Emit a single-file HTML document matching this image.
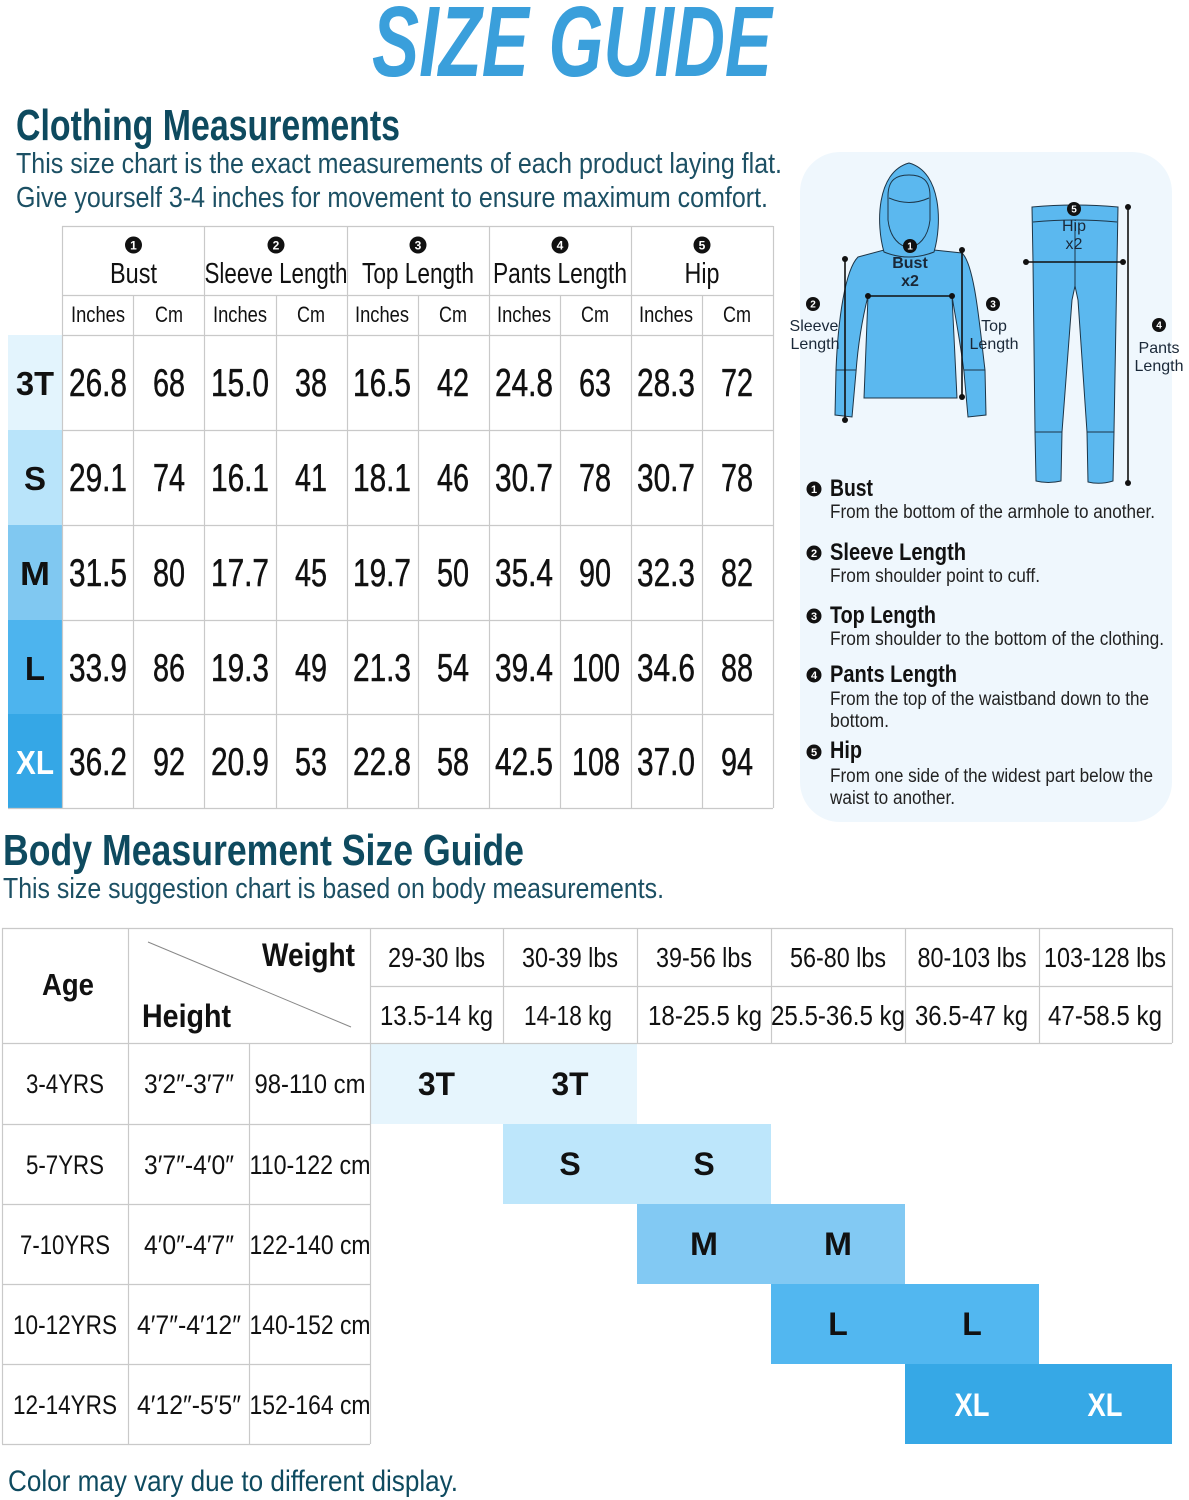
<!DOCTYPE html>
<html><head><meta charset="utf-8"><style>
html,body{margin:0;padding:0;background:#fff;}
svg{display:block;}
.n{font-family:"Liberation Sans Narrow","Liberation Sans",sans-serif;}
.w{font-family:"Liberation Sans",sans-serif;}
</style></head><body>
<svg width="1189" height="1500" viewBox="0 0 1189 1500" xmlns="http://www.w3.org/2000/svg">
<rect width="1189" height="1500" fill="#fff"/>
<!-- Title -->
<text class="n" x="372" y="76" font-size="100" font-weight="bold" font-style="italic" fill="#3a9fdb" textLength="400" lengthAdjust="spacingAndGlyphs">SIZE GUIDE</text>

<text class="n" x="16" y="140" font-size="44" font-weight="bold" fill="#0e4a5f" textLength="384" lengthAdjust="spacingAndGlyphs">Clothing Measurements</text>
<text class="n" x="16" y="173" font-size="29" fill="#1c5064" textLength="766" lengthAdjust="spacingAndGlyphs">This size chart is the exact measurements of each product laying flat.</text>
<text class="n" x="16" y="207" font-size="29" fill="#1c5064" textLength="752" lengthAdjust="spacingAndGlyphs">Give yourself 3-4 inches for movement to ensure maximum comfort.</text>

<!-- Top table size column -->
<rect x="8" y="335" width="54" height="95" fill="#e3f4fd"/>
<rect x="8" y="430" width="54" height="95" fill="#b9e4fa"/>
<rect x="8" y="525" width="54" height="95" fill="#80c8f1"/>
<rect x="8" y="620" width="54" height="94" fill="#4db4ee"/>
<rect x="8" y="714" width="54" height="94" fill="#35a7e6"/>

<g stroke="#c9c9c9" stroke-width="1.2">
<line x1="62" y1="226.5" x2="773" y2="226.5"/>
<line x1="62" y1="295.5" x2="773" y2="295.5"/>
<line x1="62" y1="335.5" x2="773" y2="335.5"/>
<line x1="62" y1="430.5" x2="773" y2="430.5"/>
<line x1="62" y1="525.5" x2="773" y2="525.5"/>
<line x1="62" y1="620.5" x2="773" y2="620.5"/>
<line x1="62" y1="714.5" x2="773" y2="714.5"/>
<line x1="8" y1="808.5" x2="773" y2="808.5"/>
<line x1="62.5" y1="226" x2="62.5" y2="808"/>
<line x1="204.5" y1="226" x2="204.5" y2="808"/>
<line x1="347.5" y1="226" x2="347.5" y2="808"/>
<line x1="489.5" y1="226" x2="489.5" y2="808"/>
<line x1="631.5" y1="226" x2="631.5" y2="808"/>
<line x1="773.5" y1="226" x2="773.5" y2="808"/>
<line x1="133.5" y1="295" x2="133.5" y2="808"/>
<line x1="276.5" y1="295" x2="276.5" y2="808"/>
<line x1="418.5" y1="295" x2="418.5" y2="808"/>
<line x1="560.5" y1="295" x2="560.5" y2="808"/>
<line x1="702.5" y1="295" x2="702.5" y2="808"/>
</g>

<!-- header number circles -->
<g fill="#111">
<circle cx="133.5" cy="245" r="8.5"/><circle cx="276" cy="245" r="8.5"/><circle cx="418" cy="245" r="8.5"/><circle cx="560" cy="245" r="8.5"/><circle cx="702" cy="245" r="8.5"/>
</g>
<g class="w" font-size="12" font-weight="bold" fill="#fff" text-anchor="middle">
<text x="133.5" y="249.5">1</text><text x="276" y="249.5">2</text><text x="418" y="249.5">3</text><text x="560" y="249.5">4</text><text x="702" y="249.5">5</text>
</g>
<g class="n" font-size="29" fill="#111" text-anchor="middle">
<text x="133.5" y="283" textLength="47" lengthAdjust="spacingAndGlyphs">Bust</text>
<text x="276" y="283" textLength="143" lengthAdjust="spacingAndGlyphs">Sleeve Length</text>
<text x="418" y="283" textLength="112" lengthAdjust="spacingAndGlyphs">Top Length</text>
<text x="560" y="283" textLength="134" lengthAdjust="spacingAndGlyphs">Pants Length</text>
<text x="702" y="283" textLength="35" lengthAdjust="spacingAndGlyphs">Hip</text>
</g>
<g class="n" font-size="22" fill="#111" text-anchor="middle">
<text x="98" y="322" textLength="54" lengthAdjust="spacingAndGlyphs">Inches</text><text x="169" y="322" textLength="28" lengthAdjust="spacingAndGlyphs">Cm</text>
<text x="240" y="322" textLength="54" lengthAdjust="spacingAndGlyphs">Inches</text><text x="311" y="322" textLength="28" lengthAdjust="spacingAndGlyphs">Cm</text>
<text x="382" y="322" textLength="54" lengthAdjust="spacingAndGlyphs">Inches</text><text x="453" y="322" textLength="28" lengthAdjust="spacingAndGlyphs">Cm</text>
<text x="524" y="322" textLength="54" lengthAdjust="spacingAndGlyphs">Inches</text><text x="595" y="322" textLength="28" lengthAdjust="spacingAndGlyphs">Cm</text>
<text x="666" y="322" textLength="54" lengthAdjust="spacingAndGlyphs">Inches</text><text x="737" y="322" textLength="28" lengthAdjust="spacingAndGlyphs">Cm</text>
</g>

<!-- size labels -->
<g class="w" font-size="33" font-weight="bold" fill="#111" text-anchor="middle">
<text x="35" y="395" textLength="38" lengthAdjust="spacingAndGlyphs">3T</text>
<text x="35" y="490">S</text>
<text x="35" y="585" textLength="30" lengthAdjust="spacingAndGlyphs">M</text>
<text x="35" y="680">L</text>
<text x="35" y="774" fill="#fff" textLength="38" lengthAdjust="spacingAndGlyphs">XL</text>
</g>

<!-- values -->
<g class="n" font-size="39" fill="#111" stroke="#111" stroke-width="0.5" text-anchor="middle">
<text x="98" y="396" textLength="58" lengthAdjust="spacingAndGlyphs">26.8</text><text x="169" y="396" textLength="32" lengthAdjust="spacingAndGlyphs">68</text><text x="240" y="396" textLength="58" lengthAdjust="spacingAndGlyphs">15.0</text><text x="311" y="396" textLength="32" lengthAdjust="spacingAndGlyphs">38</text><text x="382" y="396" textLength="58" lengthAdjust="spacingAndGlyphs">16.5</text><text x="453" y="396" textLength="32" lengthAdjust="spacingAndGlyphs">42</text><text x="524" y="396" textLength="58" lengthAdjust="spacingAndGlyphs">24.8</text><text x="595" y="396" textLength="32" lengthAdjust="spacingAndGlyphs">63</text><text x="666" y="396" textLength="58" lengthAdjust="spacingAndGlyphs">28.3</text><text x="737" y="396" textLength="32" lengthAdjust="spacingAndGlyphs">72</text>
<text x="98" y="491" textLength="58" lengthAdjust="spacingAndGlyphs">29.1</text><text x="169" y="491" textLength="32" lengthAdjust="spacingAndGlyphs">74</text><text x="240" y="491" textLength="58" lengthAdjust="spacingAndGlyphs">16.1</text><text x="311" y="491" textLength="32" lengthAdjust="spacingAndGlyphs">41</text><text x="382" y="491" textLength="58" lengthAdjust="spacingAndGlyphs">18.1</text><text x="453" y="491" textLength="32" lengthAdjust="spacingAndGlyphs">46</text><text x="524" y="491" textLength="58" lengthAdjust="spacingAndGlyphs">30.7</text><text x="595" y="491" textLength="32" lengthAdjust="spacingAndGlyphs">78</text><text x="666" y="491" textLength="58" lengthAdjust="spacingAndGlyphs">30.7</text><text x="737" y="491" textLength="32" lengthAdjust="spacingAndGlyphs">78</text>
<text x="98" y="586" textLength="58" lengthAdjust="spacingAndGlyphs">31.5</text><text x="169" y="586" textLength="32" lengthAdjust="spacingAndGlyphs">80</text><text x="240" y="586" textLength="58" lengthAdjust="spacingAndGlyphs">17.7</text><text x="311" y="586" textLength="32" lengthAdjust="spacingAndGlyphs">45</text><text x="382" y="586" textLength="58" lengthAdjust="spacingAndGlyphs">19.7</text><text x="453" y="586" textLength="32" lengthAdjust="spacingAndGlyphs">50</text><text x="524" y="586" textLength="58" lengthAdjust="spacingAndGlyphs">35.4</text><text x="595" y="586" textLength="32" lengthAdjust="spacingAndGlyphs">90</text><text x="666" y="586" textLength="58" lengthAdjust="spacingAndGlyphs">32.3</text><text x="737" y="586" textLength="32" lengthAdjust="spacingAndGlyphs">82</text>
<text x="98" y="681" textLength="58" lengthAdjust="spacingAndGlyphs">33.9</text><text x="169" y="681" textLength="32" lengthAdjust="spacingAndGlyphs">86</text><text x="240" y="681" textLength="58" lengthAdjust="spacingAndGlyphs">19.3</text><text x="311" y="681" textLength="32" lengthAdjust="spacingAndGlyphs">49</text><text x="382" y="681" textLength="58" lengthAdjust="spacingAndGlyphs">21.3</text><text x="453" y="681" textLength="32" lengthAdjust="spacingAndGlyphs">54</text><text x="524" y="681" textLength="58" lengthAdjust="spacingAndGlyphs">39.4</text><text x="596" y="681" textLength="48" lengthAdjust="spacingAndGlyphs">100</text><text x="666" y="681" textLength="58" lengthAdjust="spacingAndGlyphs">34.6</text><text x="737" y="681" textLength="32" lengthAdjust="spacingAndGlyphs">88</text>
<text x="98" y="775" textLength="58" lengthAdjust="spacingAndGlyphs">36.2</text><text x="169" y="775" textLength="32" lengthAdjust="spacingAndGlyphs">92</text><text x="240" y="775" textLength="58" lengthAdjust="spacingAndGlyphs">20.9</text><text x="311" y="775" textLength="32" lengthAdjust="spacingAndGlyphs">53</text><text x="382" y="775" textLength="58" lengthAdjust="spacingAndGlyphs">22.8</text><text x="453" y="775" textLength="32" lengthAdjust="spacingAndGlyphs">58</text><text x="524" y="775" textLength="58" lengthAdjust="spacingAndGlyphs">42.5</text><text x="596" y="775" textLength="48" lengthAdjust="spacingAndGlyphs">108</text><text x="666" y="775" textLength="58" lengthAdjust="spacingAndGlyphs">37.0</text><text x="737" y="775" textLength="32" lengthAdjust="spacingAndGlyphs">94</text>
</g>

<!-- Right panel -->
<rect x="800" y="152" width="372" height="670" rx="40" ry="40" fill="#eff7fd"/>

<!-- Hoodie -->
<g stroke="#1d3547" stroke-width="1" fill="#5bb8ef">
<path d="M858,257 L884,250 Q909,264 934,250 L962,253 C975,265 980,330 985,370 L986,415 L968,417 L964,372 C960,340 955,315 952,296 L957,398 L864,398 L868,296 C862,320 858,345 856,372 L852,417 L835,415 L836,370 C838,320 845,270 858,257 Z"/>
<path d="M884,252 C876,225 876,172 909,163 C942,172 942,225 934,252 Q909,262 884,252 Z"/>
<path d="M888,196 C888,180 896,175 909,175 C922,175 930,180 930,196 L930,220 C928,238 918,247 909,247 C900,247 890,238 888,220 Z" fill="#5bb8ef"/>
<path d="M889,198 Q909,207 929,198" fill="none"/>
<line x1="836" y1="370" x2="856" y2="370"/>
<line x1="964" y1="370" x2="985" y2="370"/>
</g>
<!-- Pants -->
<g stroke="#1d3547" stroke-width="1" fill="#5bb8ef">
<path d="M1032,207 Q1075,203 1118,207 L1117,262 L1114,432 L1113,481 Q1100,485 1088,482 L1087,432 L1078,300 L1075,286 L1072,300 L1062,432 L1061,481 Q1048,484 1036,481 L1035,432 L1033,262 Z"/>
<path d="M1033,222 Q1075,218 1117,222" fill="none"/>
<line x1="1075" y1="222" x2="1075" y2="286"/>
<line x1="1035" y1="432" x2="1062" y2="432"/>
<line x1="1087" y1="432" x2="1114" y2="432"/>
</g>
<!-- measurement lines -->
<g stroke="#111" stroke-width="1.6">
<line x1="868" y1="296" x2="952" y2="296"/>
<line x1="845" y1="259" x2="845" y2="420"/>
<line x1="962" y1="250" x2="962" y2="397"/>
<line x1="1026" y1="262" x2="1123" y2="262"/>
<line x1="1128" y1="207" x2="1128" y2="483"/>
</g>
<g fill="#111">
<circle cx="868" cy="296" r="3"/><circle cx="952" cy="296" r="3"/>
<circle cx="845" cy="259" r="3"/><circle cx="845" cy="420" r="3"/>
<circle cx="962" cy="250" r="3"/><circle cx="962" cy="397" r="3"/>
<circle cx="1026" cy="262" r="3"/><circle cx="1123" cy="262" r="3"/>
<circle cx="1128" cy="207" r="3"/><circle cx="1128" cy="483" r="3"/>
<circle cx="910" cy="246" r="7"/><circle cx="813" cy="304" r="7"/><circle cx="993" cy="304" r="7"/><circle cx="1074" cy="209" r="7"/><circle cx="1159" cy="325" r="7"/>
</g>
<g class="w" font-size="10" font-weight="bold" fill="#fff" text-anchor="middle">
<text x="910" y="249.5">1</text><text x="813" y="307.5">2</text><text x="993" y="307.5">3</text><text x="1074" y="212.5">5</text><text x="1159" y="328.5">4</text>
</g>
<g class="w" font-size="16" fill="#1a2838" text-anchor="middle">
<text x="910" y="268" font-weight="bold">Bust</text><text x="910" y="286" font-weight="bold">x2</text>
<text x="1074" y="231">Hip</text><text x="1074" y="249">x2</text>
<text x="814" y="331">Sleeve</text><text x="815" y="349">Length</text>
<text x="994" y="331">Top</text><text x="994" y="349">Length</text>
<text x="1159" y="353">Pants</text><text x="1159" y="371">Length</text>
</g>

<!-- descriptions -->
<g fill="#111">
<circle cx="814" cy="489" r="7.5"/><circle cx="814" cy="553" r="7.5"/><circle cx="814" cy="616" r="7.5"/><circle cx="814" cy="675" r="7.5"/><circle cx="814" cy="752" r="7.5"/>
</g>
<g class="w" font-size="11" font-weight="bold" fill="#fff" text-anchor="middle">
<text x="814" y="493">1</text><text x="814" y="557">2</text><text x="814" y="620">3</text><text x="814" y="679">4</text><text x="814" y="756">5</text>
</g>
<g class="n" font-size="24" font-weight="bold" fill="#111">
<text x="830" y="496" textLength="43" lengthAdjust="spacingAndGlyphs">Bust</text>
<text x="830" y="560" textLength="136" lengthAdjust="spacingAndGlyphs">Sleeve Length</text>
<text x="830" y="623" textLength="106" lengthAdjust="spacingAndGlyphs">Top Length</text>
<text x="830" y="682" textLength="127" lengthAdjust="spacingAndGlyphs">Pants Length</text>
<text x="830" y="758" textLength="32" lengthAdjust="spacingAndGlyphs">Hip</text>
</g>
<g class="n" font-size="19" fill="#222">
<text x="830" y="518" textLength="325" lengthAdjust="spacingAndGlyphs">From the bottom of the armhole to another.</text>
<text x="830" y="582" textLength="210" lengthAdjust="spacingAndGlyphs">From shoulder point to cuff.</text>
<text x="830" y="645" textLength="334" lengthAdjust="spacingAndGlyphs">From shoulder to the bottom of the clothing.</text>
<text x="830" y="705" textLength="319" lengthAdjust="spacingAndGlyphs">From the top of the waistband down to the</text>
<text x="830" y="727" textLength="59" lengthAdjust="spacingAndGlyphs">bottom.</text>
<text x="830" y="782" textLength="323" lengthAdjust="spacingAndGlyphs">From one side of the widest part below the</text>
<text x="830" y="804" textLength="125" lengthAdjust="spacingAndGlyphs">waist to another.</text>
</g>

<!-- Body section -->
<text class="n" x="3" y="865" font-size="44" font-weight="bold" fill="#0e4a5f" textLength="521" lengthAdjust="spacingAndGlyphs">Body Measurement Size Guide</text>
<text class="n" x="3" y="898" font-size="29" fill="#1c5064" textLength="661" lengthAdjust="spacingAndGlyphs">This size suggestion chart is based on body measurements.</text>

<!-- colored blocks -->
<rect x="370" y="1043" width="267" height="81" fill="#e6f5fd"/>
<rect x="503" y="1124" width="268" height="80" fill="#bde6fb"/>
<rect x="637" y="1204" width="268" height="80" fill="#82c9f3"/>
<rect x="771" y="1284" width="268" height="80" fill="#52b7f0"/>
<rect x="905" y="1364" width="267" height="80" fill="#36a8e6"/>

<g stroke="#c9c9c9" stroke-width="1.2">
<line x1="2" y1="928.5" x2="1172" y2="928.5"/>
<line x1="370" y1="986.5" x2="1172" y2="986.5"/>
<line x1="2" y1="1043.5" x2="1172" y2="1043.5"/>
<line x1="2" y1="1124.5" x2="370" y2="1124.5"/>
<line x1="2" y1="1204.5" x2="370" y2="1204.5"/>
<line x1="2" y1="1284.5" x2="370" y2="1284.5"/>
<line x1="2" y1="1364.5" x2="370" y2="1364.5"/>
<line x1="2" y1="1444.5" x2="370" y2="1444.5"/>
<line x1="2.5" y1="928" x2="2.5" y2="1444"/>
<line x1="128.5" y1="928" x2="128.5" y2="1444"/>
<line x1="249.5" y1="1043" x2="249.5" y2="1444"/>
<line x1="370.5" y1="928" x2="370.5" y2="1444"/>
<line x1="503.5" y1="928" x2="503.5" y2="1043"/>
<line x1="637.5" y1="928" x2="637.5" y2="1043"/>
<line x1="771.5" y1="928" x2="771.5" y2="1043"/>
<line x1="905.5" y1="928" x2="905.5" y2="1043"/>
<line x1="1039.5" y1="928" x2="1039.5" y2="1043"/>
<line x1="1172.5" y1="928" x2="1172.5" y2="1043"/>
</g>
<line x1="148" y1="942" x2="351" y2="1027" stroke="#888" stroke-width="1"/>

<g class="n" fill="#111" font-weight="bold">
<text x="68" y="995" font-size="31" text-anchor="middle" textLength="52" lengthAdjust="spacingAndGlyphs">Age</text>
<text x="355" y="966" font-size="32" text-anchor="end" textLength="93" lengthAdjust="spacingAndGlyphs">Weight</text>
<text x="142" y="1027" font-size="32" textLength="89" lengthAdjust="spacingAndGlyphs">Height</text>
</g>
<g class="n" font-size="28" fill="#111" text-anchor="middle">
<text x="436.5" y="967" textLength="97" lengthAdjust="spacingAndGlyphs">29-30 lbs</text>
<text x="570" y="967" textLength="96" lengthAdjust="spacingAndGlyphs">30-39 lbs</text>
<text x="704" y="967" textLength="96" lengthAdjust="spacingAndGlyphs">39-56 lbs</text>
<text x="838" y="967" textLength="96" lengthAdjust="spacingAndGlyphs">56-80 lbs</text>
<text x="972" y="967" textLength="109" lengthAdjust="spacingAndGlyphs">80-103 lbs</text>
<text x="1105" y="967" textLength="122" lengthAdjust="spacingAndGlyphs">103-128 lbs</text>
<text x="436.5" y="1025" textLength="113" lengthAdjust="spacingAndGlyphs">13.5-14 kg</text>
<text x="568" y="1025" textLength="88" lengthAdjust="spacingAndGlyphs">14-18 kg</text>
<text x="705" y="1025" textLength="114" lengthAdjust="spacingAndGlyphs">18-25.5 kg</text>
<text x="838" y="1025" textLength="134" lengthAdjust="spacingAndGlyphs">25.5-36.5 kg</text>
<text x="971.5" y="1025" textLength="113" lengthAdjust="spacingAndGlyphs">36.5-47 kg</text>
<text x="1105" y="1025" textLength="114" lengthAdjust="spacingAndGlyphs">47-58.5 kg</text>
</g>
<g class="n" font-size="27" fill="#111" text-anchor="middle">
<text x="65" y="1093" textLength="78" lengthAdjust="spacingAndGlyphs">3-4YRS</text>
<text x="189" y="1093" textLength="90" lengthAdjust="spacingAndGlyphs">3′2″-3′7″</text>
<text x="310" y="1093" textLength="111" lengthAdjust="spacingAndGlyphs">98-110 cm</text>
<text x="65" y="1174" textLength="78" lengthAdjust="spacingAndGlyphs">5-7YRS</text>
<text x="189" y="1174" textLength="90" lengthAdjust="spacingAndGlyphs">3′7″-4′0″</text>
<text x="310" y="1174" textLength="121" lengthAdjust="spacingAndGlyphs">110-122 cm</text>
<text x="65" y="1254" textLength="90" lengthAdjust="spacingAndGlyphs">7-10YRS</text>
<text x="189" y="1254" textLength="90" lengthAdjust="spacingAndGlyphs">4′0″-4′7″</text>
<text x="310" y="1254" textLength="121" lengthAdjust="spacingAndGlyphs">122-140 cm</text>
<text x="65" y="1334" textLength="104" lengthAdjust="spacingAndGlyphs">10-12YRS</text>
<text x="189" y="1334" textLength="104" lengthAdjust="spacingAndGlyphs">4′7″-4′12″</text>
<text x="310" y="1334" textLength="121" lengthAdjust="spacingAndGlyphs">140-152 cm</text>
<text x="65" y="1414" textLength="104" lengthAdjust="spacingAndGlyphs">12-14YRS</text>
<text x="189" y="1414" textLength="104" lengthAdjust="spacingAndGlyphs">4′12″-5′5″</text>
<text x="310" y="1414" textLength="121" lengthAdjust="spacingAndGlyphs">152-164 cm</text>
</g>
<g class="w" font-size="32" font-weight="bold" fill="#111" text-anchor="middle">
<text x="436.5" y="1095" textLength="37" lengthAdjust="spacingAndGlyphs">3T</text><text x="570" y="1095" textLength="37" lengthAdjust="spacingAndGlyphs">3T</text>
<text x="570" y="1175">S</text><text x="704" y="1175">S</text>
<text x="704" y="1255" textLength="28" lengthAdjust="spacingAndGlyphs">M</text><text x="838" y="1255" textLength="28" lengthAdjust="spacingAndGlyphs">M</text>
<text x="838" y="1335">L</text><text x="972" y="1335">L</text>
<text x="972" y="1416" fill="#fff" textLength="35" lengthAdjust="spacingAndGlyphs">XL</text><text x="1105" y="1416" fill="#fff" textLength="35" lengthAdjust="spacingAndGlyphs">XL</text>
</g>

<text class="n" x="8" y="1491" font-size="30" fill="#0e4a5f" textLength="450" lengthAdjust="spacingAndGlyphs">Color may vary due to different display.</text>
</svg>
</body></html>
